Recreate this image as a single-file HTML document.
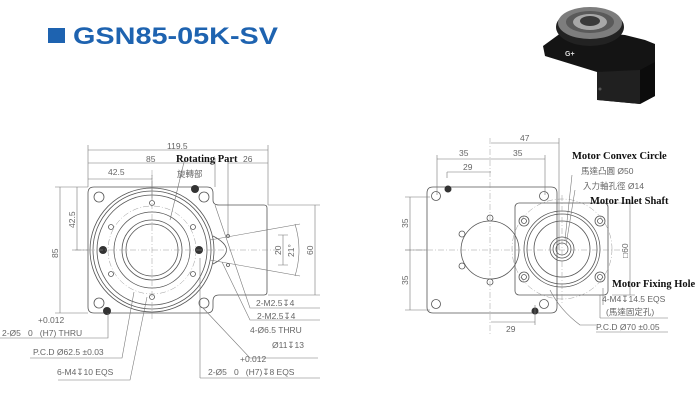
<!DOCTYPE html>
<html><head><meta charset="utf-8"><style>
body{margin:0;background:#fff}
svg{display:block}
.l{stroke:#555;fill:none;stroke-width:.8}
.d{stroke:#777;fill:none;stroke-width:.6}
.c{stroke:#999;fill:none;stroke-width:.5;stroke-dasharray:6 2 1 2}
.t{font-family:"Liberation Sans","Noto Sans CJK TC",sans-serif;font-size:8.5px;fill:#666}
.s{font-family:"Liberation Serif",serif;font-size:10.5px;fill:#111;font-weight:bold}
</style></head><body>
<svg width="700" height="404" viewBox="0 0 700 404" xmlns="http://www.w3.org/2000/svg">
<rect x="48" y="28" width="17" height="15" fill="#1e63b0"/>
<text x="73" y="44" font-family="Liberation Sans,sans-serif" font-weight="bold" font-size="24" fill="#1e63b0" textLength="205" lengthAdjust="spacingAndGlyphs">GSN85-05K-SV</text>

<!-- photo -->
<g>
<path d="M543 46 L565 30 L625 35 L645 40 L655 44 L655 96 L640 104 L598 100 L597 72 L545 56Z" fill="#141414"/>
<path d="M597 72 L597 100 L640 104 L640 70Z" fill="#202020"/>
<path d="M640 70 L655 62 L655 96 L640 104Z" fill="#0c0c0c"/>
<ellipse cx="590" cy="27" rx="34" ry="19" fill="#222"/>
<ellipse cx="590" cy="23" rx="32" ry="16" fill="#7d7d7d"/>
<ellipse cx="590" cy="22" rx="24" ry="11" fill="#5a5a5a"/>
<ellipse cx="590" cy="22" rx="17" ry="8" fill="#a8a8a8"/>
<ellipse cx="590" cy="21" rx="10" ry="5" fill="#3a3a3a"/>
<circle cx="600" cy="89" r="1.5" fill="#555"/>
<text x="565" y="56" font-size="7" fill="#ddd" font-family="Liberation Sans,sans-serif" font-weight="bold">G+</text>
</g>

<!-- LEFT VIEW -->
<path class="l" d="M94 187 H207 Q213 187 213 193 V200 Q213 205 219 205 H264 Q267 205 267 208 V292 Q267 295 264 295 H219 Q213 295 213 301 V307 Q213 313 207 313 H94 Q88 313 88 307 V193 Q88 187 94 187Z"/>
<circle class="l" cx="152" cy="250" r="62"/>
<circle class="l" cx="152" cy="250" r="59"/>
<circle class="l" cx="152" cy="250" r="55"/>
<circle class="c" cx="152" cy="250" r="44"/>
<circle class="l" cx="152" cy="250" r="38"/>
<circle class="l" cx="152" cy="250" r="30"/>
<circle class="l" cx="152" cy="250" r="26"/>
<circle class="l" cx="99" cy="197" r="5"/><circle class="l" cx="204" cy="197" r="5"/>
<circle class="l" cx="99" cy="303" r="5"/><circle class="l" cx="204" cy="303" r="5"/>
<g class="l"><circle cx="152" cy="203" r="2.5"/><circle cx="152" cy="297" r="2.5"/><circle cx="111" cy="227" r="2.5"/><circle cx="193" cy="227" r="2.5"/><circle cx="111" cy="274" r="2.5"/><circle cx="193" cy="274" r="2.5"/></g>
<circle cx="103" cy="250" r="4" fill="#333"/><circle cx="199" cy="250" r="4" fill="#333"/>
<circle cx="195" cy="189" r="4" fill="#333"/><circle cx="107" cy="311" r="4" fill="#333"/>
<path class="l" d="M213 236 Q240 250 213 264"/>
<circle class="l" cx="228" cy="236" r="1.5"/><circle class="l" cx="228" cy="265" r="1.5"/>
<line class="c" x1="75" y1="250" x2="280" y2="250"/><line class="c" x1="152" y1="170" x2="152" y2="320"/>
<line class="d" x1="210" y1="240" x2="300" y2="224"/><line class="d" x1="210" y1="260" x2="300" y2="276"/>
<g class="d">
<path d="M88 150 H268 M88 163 H215 M228 163 H268 M88 179 H152 M88 145 V187 M268 145 V205 M152 175 V200 M215 158 V187 M228 158 V236"/>
<path d="M60 187 V313 M55 187 H88 M55 313 H88 M77 187 V250 M72 250 H88"/>
<path d="M315 205 V295 M268 205 H320 M268 295 H320 M283 235 V265 M278 235 H288 M278 265 H288"/>
<path d="M295 224 Q303 250 295 276"/>
<path d="M0 338 H108 V313 M30 358 H122 L134 292 M58 380 H130 L147 297 M200 378 H320 M200 378 V258 M215 205 L250 308 H320 M222 262 L250 320 H320 M203 308 L250 358 H318"/>
<path d="M185 158 L170 220"/>
</g>
<text class="t" x="167" y="149">119.5</text>
<text class="t" x="146" y="162">85</text>
<text class="s" x="176" y="162">Rotating Part</text>
<text class="t" x="243" y="162">26</text>
<text class="t" x="108" y="175">42.5</text>
<text class="t" x="177" y="177">旋轉部</text>
<text class="t" x="0" y="0" transform="translate(58,258) rotate(-90)">85</text>
<text class="t" x="0" y="0" transform="translate(75,228) rotate(-90)">42.5</text>
<text class="t" x="0" y="0" transform="translate(313,255) rotate(-90)">60</text>
<text class="t" x="0" y="0" transform="translate(281,255) rotate(-90)">20</text>
<text class="t" x="0" y="0" transform="translate(294,257) rotate(-90)">21°</text>
<text class="t" x="256" y="306">2-M2.5↧4</text>
<text class="t" x="257" y="319">2-M2.5↧4</text>
<text class="t" x="250" y="333">4-Ø6.5 THRU</text>
<text class="t" x="272" y="348">Ø11↧13</text>
<text class="t" x="2" y="336">2-Ø5 &#160;&#160;0 &#160;&#160;(H7) THRU</text>
<text class="t" x="38" y="323" font-size="6.5">+0.012</text>
<text class="t" x="33" y="355">P.C.D Ø62.5 ±0.03</text>
<text class="t" x="57" y="375">6-M4↧10 EQS</text>
<text class="t" x="208" y="375">2-Ø5 &#160;&#160;0 &#160;&#160;(H7)↧8 EQS</text>
<text class="t" x="240" y="362" font-size="6.5">+0.012</text>

<!-- RIGHT VIEW -->
<path class="l" d="M433 187 H551 Q557 187 557 193 V307 Q557 313 551 313 H433 Q427 313 427 307 V193 Q427 187 433 187Z"/>
<rect class="l" x="515" y="203" width="93" height="92" rx="4" fill="#fff"/>
<circle class="l" cx="490" cy="250" r="29"/>
<g class="l"><circle cx="490" cy="218" r="3"/><circle cx="490" cy="282" r="3"/><circle cx="462" cy="234" r="3"/><circle cx="462" cy="266" r="3"/><circle cx="436" cy="196" r="4.5"/><circle cx="544" cy="196" r="4.5"/><circle cx="436" cy="304" r="4.5"/><circle cx="544" cy="304" r="4.5"/></g>
<circle cx="448" cy="189" r="3.5" fill="#333"/><circle cx="535" cy="311" r="3.5" fill="#333"/>
<circle class="c" cx="562" cy="249" r="50"/>
<circle class="l" cx="562" cy="249" r="38"/>
<circle class="l" cx="562" cy="249" r="35"/>
<circle class="l" cx="562" cy="249" r="28"/>
<circle class="l" cx="562" cy="249" r="12"/>
<circle class="l" cx="562" cy="249" r="9"/>
<circle class="l" cx="562" cy="249" r="6"/>
<g class="l"><circle cx="524" cy="221" r="5"/><circle cx="600" cy="221" r="5"/><circle cx="524" cy="277" r="5"/><circle cx="600" cy="277" r="5"/><circle cx="524" cy="221" r="2.5"/><circle cx="600" cy="221" r="2.5"/><circle cx="524" cy="277" r="2.5"/><circle cx="600" cy="277" r="2.5"/></g>
<line class="c" x1="405" y1="250" x2="620" y2="250"/><line class="c" x1="490" y1="138" x2="490" y2="335"/><line class="c" x1="562" y1="195" x2="562" y2="305"/>
<g class="d">
<path d="M491 143 H559 M559 138 V250 M437 159 H545 M437 155 V195 M545 155 V195 M447 172 H491 M447 172 V178 M491 322 H535 M535 305 V325"/>
<path d="M410 197 V310 M405 197 H430 M405 310 H430 M405 250 H427"/>
<path d="M630 203 V295 M612 203 H635 M612 295 H635"/>
<path d="M572 175 L565 240 M575 190 L566 245 M603 288 V305 M600 318 H668 M600 318 V295 M596 332 H668 M550 290 Q560 310 580 325 H596"/>
</g>
<text class="t" x="520" y="141">47</text>
<text class="t" x="459" y="156">35</text>
<text class="t" x="513" y="156">35</text>
<text class="t" x="463" y="170">29</text>
<text class="t" x="506" y="332">29</text>
<text class="t" x="0" y="0" transform="translate(408,228) rotate(-90)">35</text>
<text class="t" x="0" y="0" transform="translate(408,285) rotate(-90)">35</text>
<text class="t" x="0" y="0" transform="translate(628,258) rotate(-90)">□60</text>
<text class="s" x="572" y="159">Motor Convex Circle</text>
<text class="t" x="581" y="174">馬達凸圓 Ø50</text>
<text class="t" x="583" y="189">入力軸孔徑 Ø14</text>
<text class="s" x="590" y="204">Motor Inlet Shaft</text>
<text class="s" x="612" y="287">Motor Fixing Hole</text>
<text class="t" x="602" y="302">4-M4↧14.5 EQS</text>
<text class="t" x="606" y="315">(馬達固定孔)</text>
<text class="t" x="596" y="330">P.C.D Ø70 ±0.05</text>
</svg>
</body></html>
